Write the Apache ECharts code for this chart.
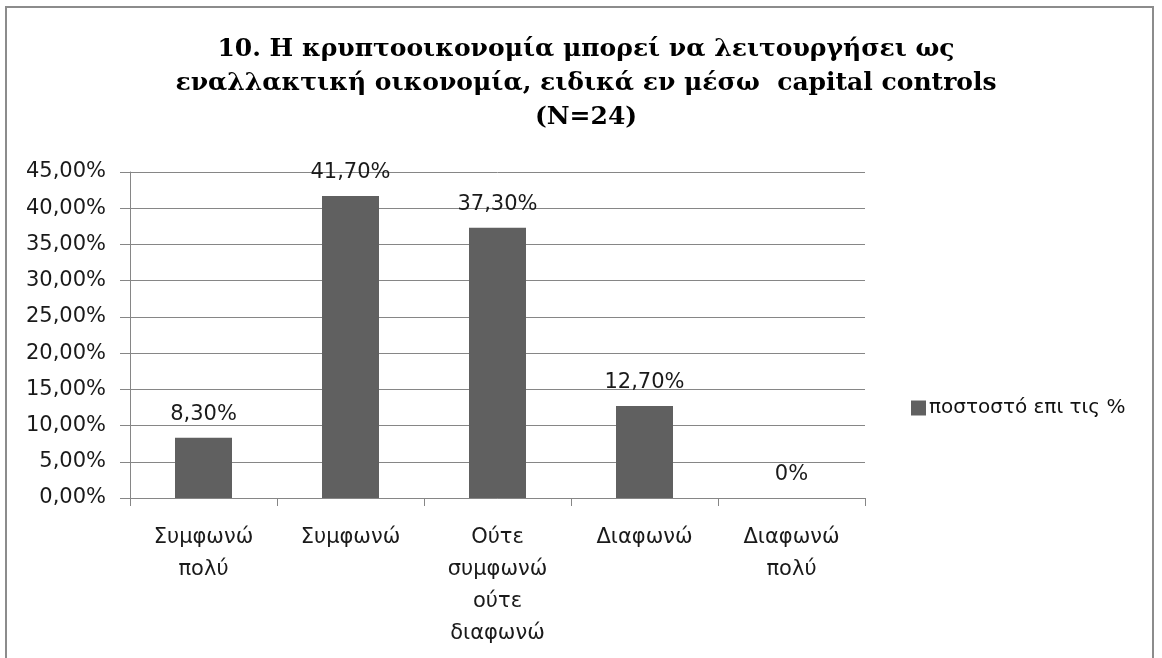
<!DOCTYPE html>
<html>
<head>
<meta charset="utf-8">
<script src="https://cdn.jsdelivr.net/npm/echarts@6/dist/echarts.min.js"></script>
<style>
html, body { margin: 0; padding: 0; background: #fff; }
#frame {
    position: absolute; left: 5px; top: 6px; width: 1149px; height: 700px;
    border: 2px solid #8c8c8c; box-sizing: border-box;
}
#chart { position: absolute; left: 0; top: 0; width: 1162px; height: 658px; }
</style>
</head>
<body>
<div id="frame"></div>
<div id="chart"></div>
<script>
// categories and values
var categories = ['Συμφωνώ\nπολύ', 'Συμφωνώ', 'Ούτε\nσυμφωνώ\nούτε\nδιαφωνώ', 'Διαφωνώ', 'Διαφωνώ\nπολύ'];
var values = [8.3, 41.7, 37.3, 12.7, 0];
var valueLabels = ['8,30%', '41,70%', '37,30%', '12,70%', '0%'];
var seriesName = 'ποστοστό επι τις %';

var myChart = echarts.init(document.getElementById('chart'), null, { renderer: 'canvas' });

var option = {
    backgroundColor: 'transparent',
    animation: false,
    title: {
        text: '10. Η κρυπτοοικονομία μπορεί να λειτουργήσει ως\nεναλλακτική οικονομία, ειδικά εν μέσω  capital controls\n(N=24)',
        left: 581,
        textAlign: 'center',
        top: 27,
        textStyle: {
            fontFamily: 'DejaVu Serif',
            fontWeight: 'bold',
            fontSize: 25,
            lineHeight: 34,
            color: '#000'
        }
    },
    legend: {
        data: [{ name: seriesName, icon: 'rect' }],
        left: 906,
        top: 393,
        itemWidth: 15,
        itemHeight: 15,
        itemGap: 4,
        itemStyle: { borderWidth: 0 },
        textStyle: { fontFamily: 'DejaVu Sans', fontSize: 20, color: '#111', padding: [0, 0, 0, -2] }
    },
    grid: { left: 130, right: 297, top: 172, bottom: 160 },
    xAxis: {
        type: 'category',
        data: categories,
        axisLine: { lineStyle: { color: '#868686', width: 1 } },
        axisTick: { show: true, length: 8, lineStyle: { color: '#868686' } },
        axisLabel: {
            interval: 0,
            margin: 24,
            fontFamily: 'DejaVu Sans',
            fontSize: 21,
            lineHeight: 32,
            color: '#1a1a1a'
        }
    },
    yAxis: {
        type: 'value',
        min: 0,
        max: 45,
        interval: 5,
        axisLine: { show: true, lineStyle: { color: '#868686', width: 1 } },
        axisTick: { show: true, length: 10, lineStyle: { color: '#868686' } },
        splitLine: { lineStyle: { color: '#868686', width: 1 } },
        axisLabel: {
            margin: 24,
            fontFamily: 'DejaVu Sans',
            fontSize: 21,
            color: '#1a1a1a',
            formatter: function (v) { return v.toFixed(2).replace('.', ',') + '%'; }
        }
    },
    series: [{
        name: seriesName,
        type: 'bar',
        data: values,
        barWidth: 57,
        itemStyle: { color: '#606060' },
        label: {
            show: true,
            position: 'top',
            distance: 13,
            fontFamily: 'DejaVu Sans',
            fontSize: 21,
            color: '#1a1a1a',
            formatter: function (p) { return valueLabels[p.dataIndex]; }
        }
    }]
};

myChart.setOption(option);
</script>
</body>
</html>
